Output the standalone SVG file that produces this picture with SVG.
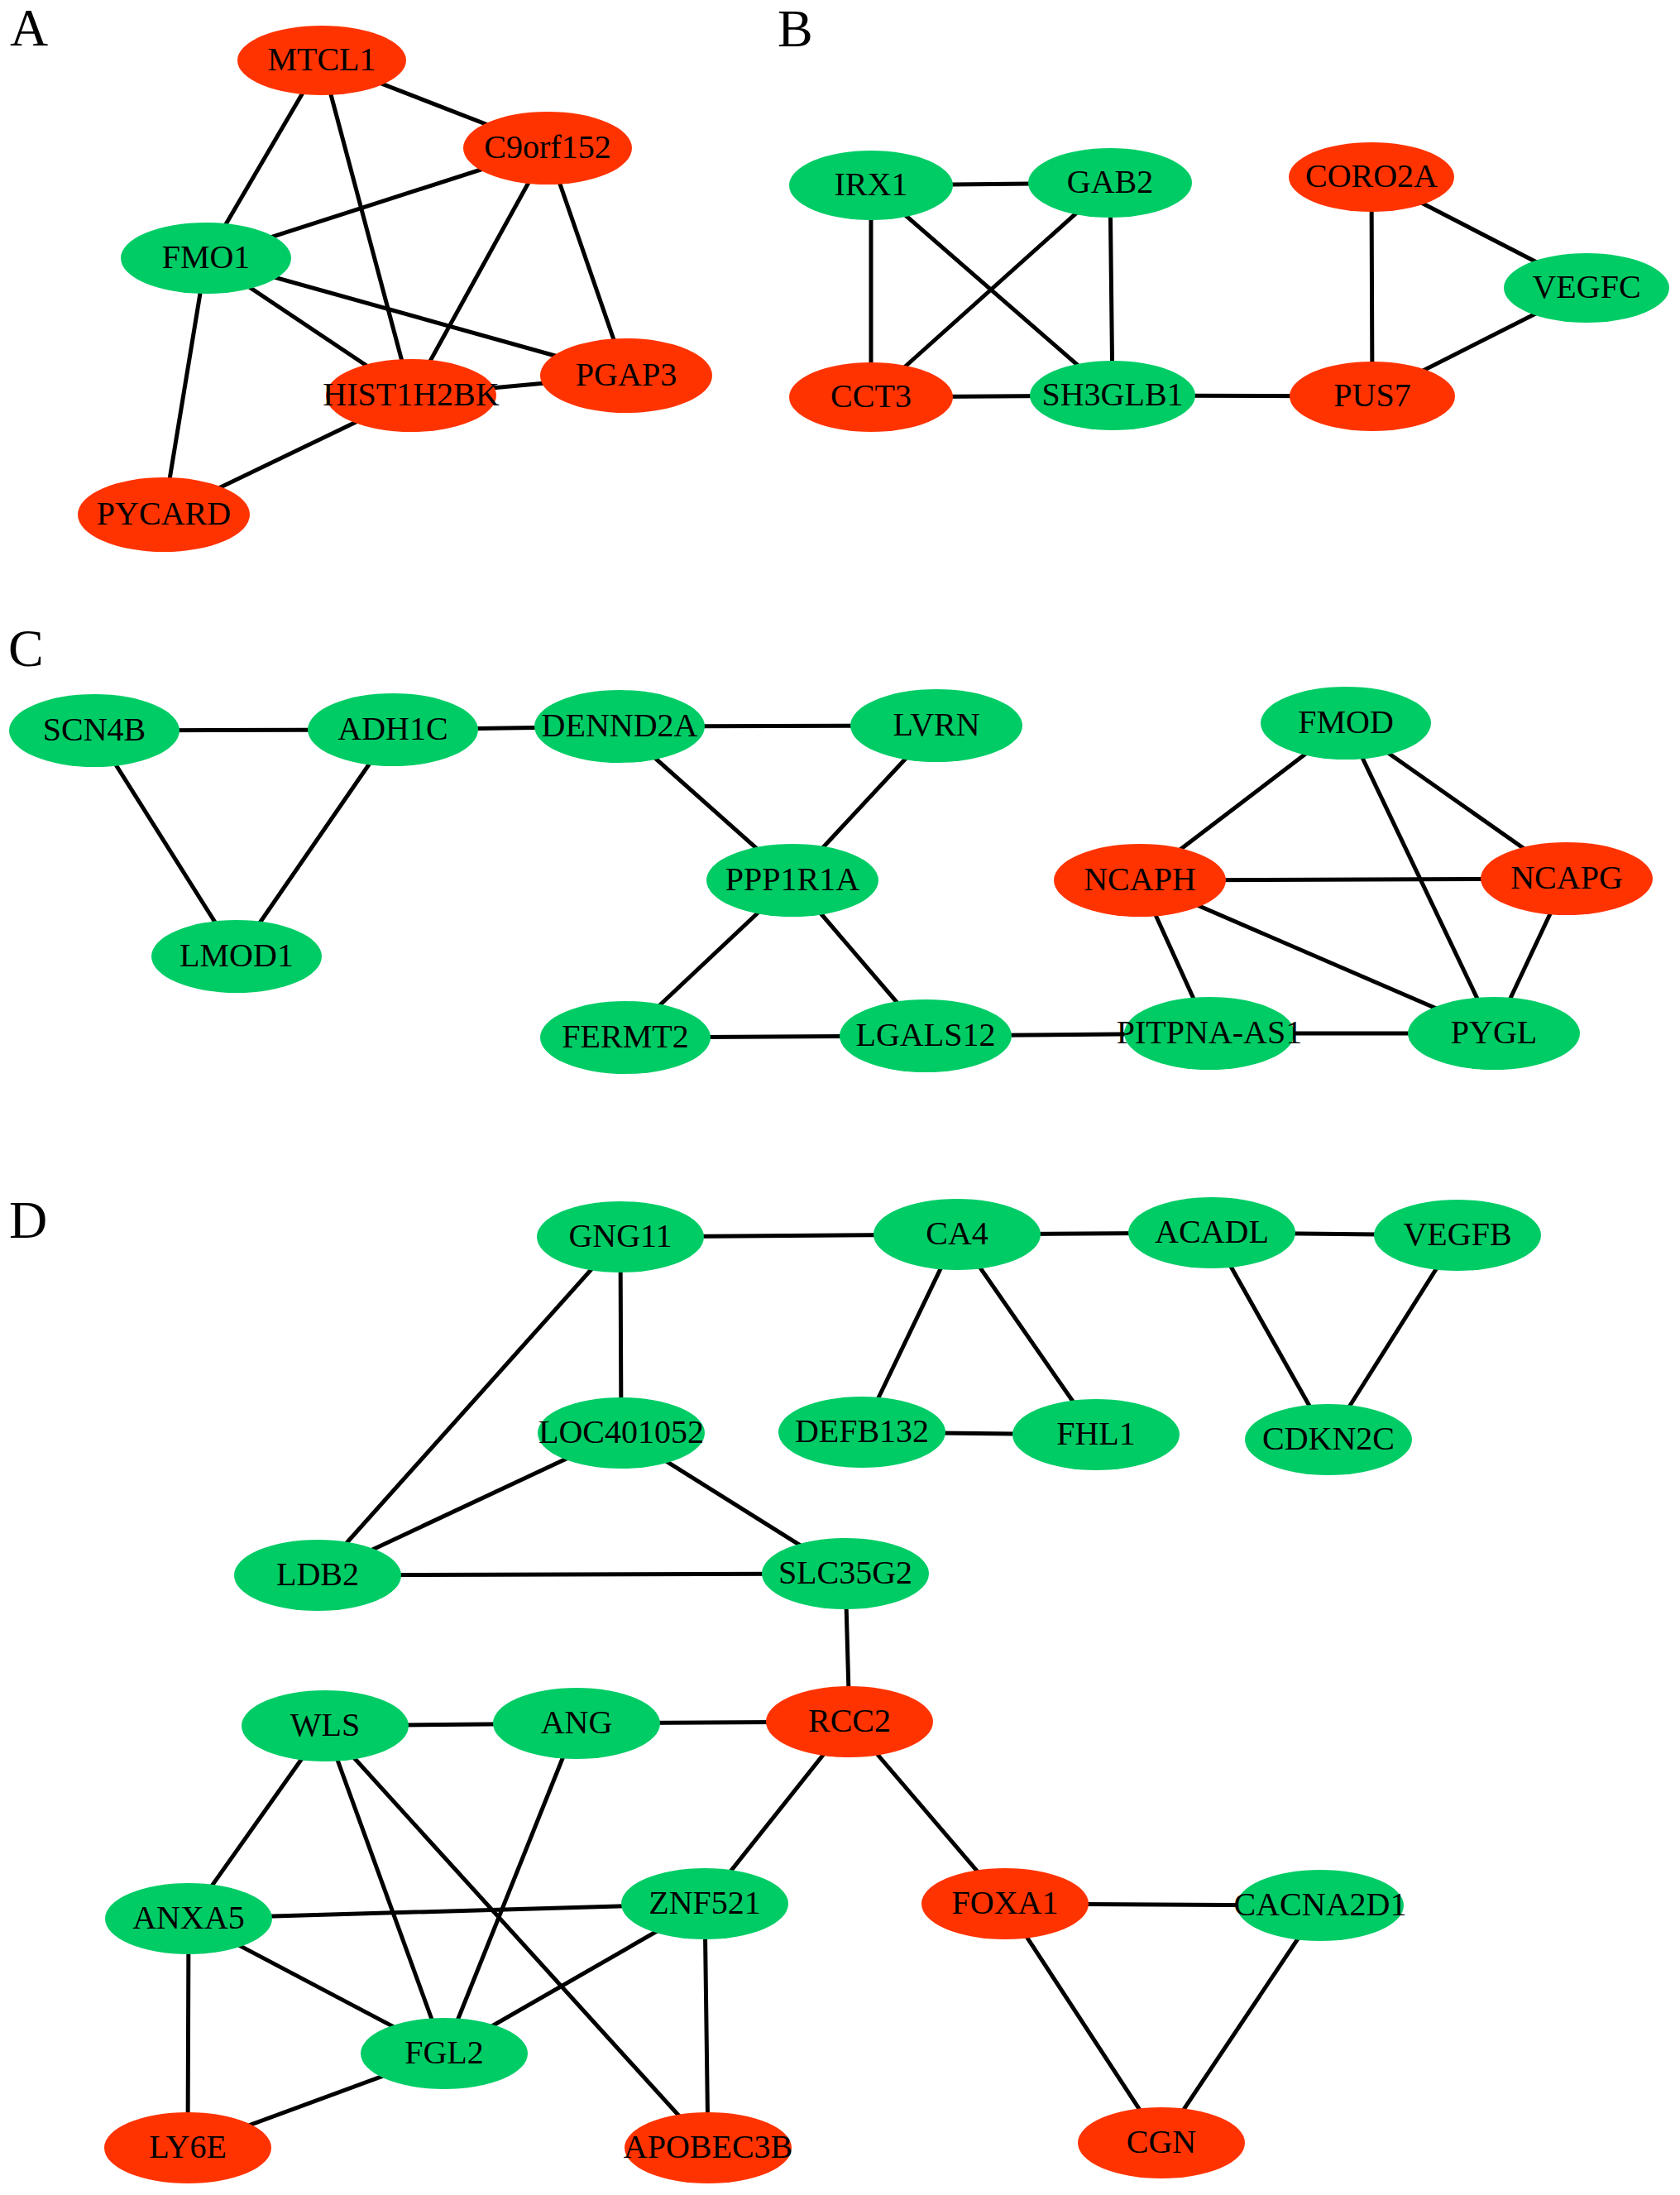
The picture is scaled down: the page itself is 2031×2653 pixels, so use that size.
<svg xmlns="http://www.w3.org/2000/svg" width="2031" height="2653" viewBox="0 0 2031 2653">
<style>
.e{stroke:#000;stroke-width:5;stroke-linecap:round}
.g{fill:#00CC66}
.r{fill:#FF3300}
.t{font-family:"Liberation Serif","Times New Roman",serif;font-size:40px;fill:#000;text-anchor:middle}
.p{font-family:"Liberation Serif","Times New Roman",serif;font-size:64px;fill:#000}
</style>
<rect width="2031" height="2653" fill="#fff"/>
<g id="panel-labels">
<text class="p" x="12" y="55">A</text>
<text class="p" x="940" y="56">B</text>
<text class="p" x="10" y="805">C</text>
<text class="p" x="11" y="1496">D</text>
</g>
<g id="connectors">
<!-- A -->
<line class="e" x1="389" y1="73" x2="662" y2="179"/>
<line class="e" x1="389" y1="73" x2="249" y2="312"/>
<line class="e" x1="389" y1="73" x2="497" y2="478"/>
<line class="e" x1="662" y1="179" x2="249" y2="312"/>
<line class="e" x1="662" y1="179" x2="497" y2="478"/>
<line class="e" x1="662" y1="179" x2="757" y2="454"/>
<line class="e" x1="249" y1="312" x2="497" y2="478"/>
<line class="e" x1="249" y1="312" x2="757" y2="454"/>
<line class="e" x1="249" y1="312" x2="198" y2="622"/>
<line class="e" x1="497" y1="478" x2="757" y2="454"/>
<line class="e" x1="497" y1="478" x2="198" y2="622"/>
<!-- B -->
<line class="e" x1="1053" y1="224" x2="1342" y2="221"/>
<line class="e" x1="1053" y1="224" x2="1053" y2="480"/>
<line class="e" x1="1053" y1="224" x2="1345" y2="478"/>
<line class="e" x1="1342" y1="221" x2="1053" y2="480"/>
<line class="e" x1="1342" y1="221" x2="1345" y2="478"/>
<line class="e" x1="1053" y1="480" x2="1345" y2="478"/>
<line class="e" x1="1345" y1="478" x2="1659" y2="479"/>
<line class="e" x1="1658" y1="214" x2="1659" y2="479"/>
<line class="e" x1="1658" y1="214" x2="1918" y2="348"/>
<line class="e" x1="1918" y1="348" x2="1659" y2="479"/>
<!-- C -->
<line class="e" x1="114" y1="883" x2="475" y2="882"/>
<line class="e" x1="114" y1="883" x2="286" y2="1156"/>
<line class="e" x1="475" y1="882" x2="286" y2="1156"/>
<line class="e" x1="475" y1="882" x2="749" y2="878"/>
<line class="e" x1="749" y1="878" x2="1132" y2="877"/>
<line class="e" x1="749" y1="878" x2="958" y2="1064"/>
<line class="e" x1="1132" y1="877" x2="958" y2="1064"/>
<line class="e" x1="958" y1="1064" x2="756" y2="1254"/>
<line class="e" x1="958" y1="1064" x2="1119" y2="1252"/>
<line class="e" x1="756" y1="1254" x2="1119" y2="1252"/>
<line class="e" x1="1119" y1="1252" x2="1462" y2="1249"/>
<line class="e" x1="1462" y1="1249" x2="1806" y2="1249"/>
<line class="e" x1="1378" y1="1064" x2="1627" y2="874"/>
<line class="e" x1="1378" y1="1064" x2="1894" y2="1062"/>
<line class="e" x1="1378" y1="1064" x2="1462" y2="1249"/>
<line class="e" x1="1378" y1="1064" x2="1806" y2="1249"/>
<line class="e" x1="1627" y1="874" x2="1894" y2="1062"/>
<line class="e" x1="1627" y1="874" x2="1806" y2="1249"/>
<line class="e" x1="1894" y1="1062" x2="1806" y2="1249"/>
<!-- D -->
<line class="e" x1="750" y1="1495" x2="1157" y2="1492"/>
<line class="e" x1="750" y1="1495" x2="751" y2="1732"/>
<line class="e" x1="750" y1="1495" x2="384" y2="1904"/>
<line class="e" x1="1157" y1="1492" x2="1465" y2="1490"/>
<line class="e" x1="1465" y1="1490" x2="1762" y2="1493"/>
<line class="e" x1="1157" y1="1492" x2="1042" y2="1731"/>
<line class="e" x1="1157" y1="1492" x2="1325" y2="1734"/>
<line class="e" x1="1042" y1="1731" x2="1325" y2="1734"/>
<line class="e" x1="1465" y1="1490" x2="1606" y2="1740"/>
<line class="e" x1="1762" y1="1493" x2="1606" y2="1740"/>
<line class="e" x1="751" y1="1732" x2="384" y2="1904"/>
<line class="e" x1="751" y1="1732" x2="1022" y2="1902"/>
<line class="e" x1="384" y1="1904" x2="1022" y2="1902"/>
<line class="e" x1="1022" y1="1902" x2="1027" y2="2081"/>
<line class="e" x1="393" y1="2086" x2="697" y2="2083"/>
<line class="e" x1="697" y1="2083" x2="1027" y2="2081"/>
<line class="e" x1="1027" y1="2081" x2="852" y2="2301"/>
<line class="e" x1="1027" y1="2081" x2="1215" y2="2301"/>
<line class="e" x1="393" y1="2086" x2="228" y2="2319"/>
<line class="e" x1="393" y1="2086" x2="537" y2="2482"/>
<line class="e" x1="393" y1="2086" x2="856" y2="2596"/>
<line class="e" x1="697" y1="2083" x2="537" y2="2482"/>
<line class="e" x1="228" y1="2319" x2="852" y2="2301"/>
<line class="e" x1="228" y1="2319" x2="537" y2="2482"/>
<line class="e" x1="228" y1="2319" x2="227" y2="2596"/>
<line class="e" x1="852" y1="2301" x2="537" y2="2482"/>
<line class="e" x1="852" y1="2301" x2="856" y2="2596"/>
<line class="e" x1="537" y1="2482" x2="227" y2="2596"/>
<line class="e" x1="1215" y1="2301" x2="1596" y2="2303"/>
<line class="e" x1="1215" y1="2301" x2="1404" y2="2590"/>
<line class="e" x1="1596" y1="2303" x2="1404" y2="2590"/>
</g>
<!-- Panel A nodes -->
<g id="MTCL1"><ellipse class="r" cx="389" cy="73" rx="102" ry="42"/><text class="t" x="389" y="85">MTCL1</text></g>
<g id="C9orf152"><ellipse class="r" cx="662" cy="179" rx="102" ry="44"/><text class="t" x="662" y="191">C9orf152</text></g>
<g id="FMO1"><ellipse class="g" cx="249" cy="312" rx="103" ry="43"/><text class="t" x="249" y="324">FMO1</text></g>
<g id="PGAP3"><ellipse class="r" cx="757" cy="454" rx="104" ry="45"/><text class="t" x="757" y="466">PGAP3</text></g>
<g id="HIST1H2BK"><ellipse class="r" cx="497" cy="478" rx="103" ry="44"/><text class="t" x="497" y="490">HIST1H2BK</text></g>
<g id="PYCARD"><ellipse class="r" cx="198" cy="622" rx="104" ry="45"/><text class="t" x="198" y="634">PYCARD</text></g>
<!-- Panel B nodes -->
<g id="IRX1"><ellipse class="g" cx="1053" cy="224" rx="99" ry="42"/><text class="t" x="1053" y="236">IRX1</text></g>
<g id="GAB2"><ellipse class="g" cx="1342" cy="221" rx="99" ry="42"/><text class="t" x="1342" y="233">GAB2</text></g>
<g id="CORO2A"><ellipse class="r" cx="1658" cy="214" rx="100" ry="42"/><text class="t" x="1658" y="226">CORO2A</text></g>
<g id="VEGFC"><ellipse class="g" cx="1918" cy="348" rx="100" ry="42"/><text class="t" x="1918" y="360">VEGFC</text></g>
<g id="CCT3"><ellipse class="r" cx="1053" cy="480" rx="99" ry="42"/><text class="t" x="1053" y="492">CCT3</text></g>
<g id="SH3GLB1"><ellipse class="g" cx="1345" cy="478" rx="100" ry="42"/><text class="t" x="1345" y="490">SH3GLB1</text></g>
<g id="PUS7"><ellipse class="r" cx="1659" cy="479" rx="100" ry="42"/><text class="t" x="1659" y="491">PUS7</text></g>
<!-- Panel C nodes -->
<g id="SCN4B"><ellipse class="g" cx="114" cy="883" rx="103" ry="44"/><text class="t" x="114" y="895">SCN4B</text></g>
<g id="ADH1C"><ellipse class="g" cx="475" cy="882" rx="103" ry="44"/><text class="t" x="475" y="894">ADH1C</text></g>
<g id="DENND2A"><ellipse class="g" cx="749" cy="878" rx="103" ry="44"/><text class="t" x="749" y="890">DENND2A</text></g>
<g id="LVRN"><ellipse class="g" cx="1132" cy="877" rx="104" ry="44"/><text class="t" x="1132" y="889">LVRN</text></g>
<g id="LMOD1"><ellipse class="g" cx="286" cy="1156" rx="103" ry="44"/><text class="t" x="286" y="1168">LMOD1</text></g>
<g id="PPP1R1A"><ellipse class="g" cx="958" cy="1064" rx="104" ry="44"/><text class="t" x="958" y="1076">PPP1R1A</text></g>
<g id="FERMT2"><ellipse class="g" cx="756" cy="1254" rx="103" ry="44"/><text class="t" x="756" y="1266">FERMT2</text></g>
<g id="LGALS12"><ellipse class="g" cx="1119" cy="1252" rx="104" ry="44"/><text class="t" x="1119" y="1264">LGALS12</text></g>
<g id="FMOD"><ellipse class="g" cx="1627" cy="874" rx="103" ry="44"/><text class="t" x="1627" y="886">FMOD</text></g>
<g id="NCAPH"><ellipse class="r" cx="1378" cy="1064" rx="104" ry="44"/><text class="t" x="1378" y="1076">NCAPH</text></g>
<g id="NCAPG"><ellipse class="r" cx="1894" cy="1062" rx="104" ry="44"/><text class="t" x="1894" y="1074">NCAPG</text></g>
<g id="PITPNA-AS1"><ellipse class="g" cx="1462" cy="1249" rx="103" ry="44"/><text class="t" x="1462" y="1261">PITPNA-AS1</text></g>
<g id="PYGL"><ellipse class="g" cx="1806" cy="1249" rx="104" ry="44"/><text class="t" x="1806" y="1261">PYGL</text></g>
<!-- Panel D nodes -->
<g id="GNG11"><ellipse class="g" cx="750" cy="1495" rx="101" ry="43"/><text class="t" x="750" y="1507">GNG11</text></g>
<g id="CA4"><ellipse class="g" cx="1157" cy="1492" rx="101" ry="43"/><text class="t" x="1157" y="1504">CA4</text></g>
<g id="ACADL"><ellipse class="g" cx="1465" cy="1490" rx="101" ry="43"/><text class="t" x="1465" y="1502">ACADL</text></g>
<g id="VEGFB"><ellipse class="g" cx="1762" cy="1493" rx="101" ry="43"/><text class="t" x="1762" y="1505">VEGFB</text></g>
<g id="LOC401052"><ellipse class="g" cx="751" cy="1732" rx="101" ry="43"/><text class="t" x="751" y="1744">LOC401052</text></g>
<g id="DEFB132"><ellipse class="g" cx="1042" cy="1731" rx="101" ry="43"/><text class="t" x="1042" y="1743">DEFB132</text></g>
<g id="FHL1"><ellipse class="g" cx="1325" cy="1734" rx="101" ry="43"/><text class="t" x="1325" y="1746">FHL1</text></g>
<g id="CDKN2C"><ellipse class="g" cx="1606" cy="1740" rx="101" ry="43"/><text class="t" x="1606" y="1752">CDKN2C</text></g>
<g id="LDB2"><ellipse class="g" cx="384" cy="1904" rx="101" ry="43"/><text class="t" x="384" y="1916">LDB2</text></g>
<g id="SLC35G2"><ellipse class="g" cx="1022" cy="1902" rx="101" ry="43"/><text class="t" x="1022" y="1914">SLC35G2</text></g>
<g id="WLS"><ellipse class="g" cx="393" cy="2086" rx="101" ry="43"/><text class="t" x="393" y="2098">WLS</text></g>
<g id="ANG"><ellipse class="g" cx="697" cy="2083" rx="101" ry="43"/><text class="t" x="697" y="2095">ANG</text></g>
<g id="RCC2"><ellipse class="r" cx="1027" cy="2081" rx="101" ry="43"/><text class="t" x="1027" y="2093">RCC2</text></g>
<g id="ANXA5"><ellipse class="g" cx="228" cy="2319" rx="101" ry="43"/><text class="t" x="228" y="2331">ANXA5</text></g>
<g id="ZNF521"><ellipse class="g" cx="852" cy="2301" rx="101" ry="43"/><text class="t" x="852" y="2313">ZNF521</text></g>
<g id="FOXA1"><ellipse class="r" cx="1215" cy="2301" rx="101" ry="43"/><text class="t" x="1215" y="2313">FOXA1</text></g>
<g id="CACNA2D1"><ellipse class="g" cx="1596" cy="2303" rx="101" ry="43"/><text class="t" x="1596" y="2315">CACNA2D1</text></g>
<g id="FGL2"><ellipse class="g" cx="537" cy="2482" rx="101" ry="43"/><text class="t" x="537" y="2494">FGL2</text></g>
<g id="LY6E"><ellipse class="r" cx="227" cy="2596" rx="101" ry="43"/><text class="t" x="227" y="2608">LY6E</text></g>
<g id="APOBEC3B"><ellipse class="r" cx="856" cy="2596" rx="101" ry="43"/><text class="t" x="856" y="2608">APOBEC3B</text></g>
<g id="CGN"><ellipse class="r" cx="1404" cy="2590" rx="101" ry="43"/><text class="t" x="1404" y="2602">CGN</text></g>
</svg>
